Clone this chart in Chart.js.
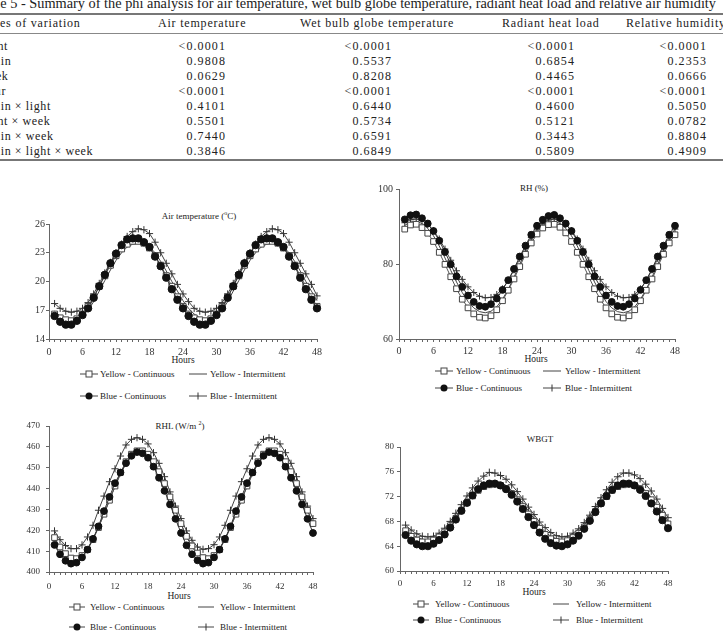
<!DOCTYPE html>
<html><head><meta charset="utf-8">
<script src="https://cdn.jsdelivr.net/npm/chart.js@4/dist/chart.umd.min.js"></script>
<style>
html,body{margin:0;padding:0;background:#fff;}
body{width:723px;height:634px;overflow:hidden;position:relative;font-family:"Liberation Serif","Times New Roman",serif;color:#222;}
.a{position:absolute;white-space:nowrap;line-height:1;}
.c{transform:translate(-50%,-50%);}
.rule{position:absolute;left:0;width:723px;background:#777;}
canvas{position:absolute;}
.lg{position:absolute;white-space:nowrap;font-size:9px;line-height:1;transform:translateY(-50%);color:#222;}
svg.sym{position:absolute;transform:translateY(-50%);overflow:visible;}
</style></head><body>
<div id="root"></div>
<canvas id="c1" width="345" height="170" style="left:0px;top:200px"></canvas>
<canvas id="c2" width="363" height="200" style="left:360px;top:170px"></canvas>
<canvas id="c3" width="345" height="200" style="left:0px;top:405px"></canvas>
<canvas id="c4" width="363" height="180" style="left:360px;top:425px"></canvas>
<script>
// ---------- Table data ----------
const tableTitle = "Table 5 - Summary of the phi analysis for air temperature, wet bulb globe temperature, radiant heat load and relative air humidity";
const tableHeaders = ["Sources of variation", "Air temperature", "Wet bulb globe temperature", "Radiant heat load", "Relative humidity"];
const rowLabels = ["Light", "Strain", "Week", "Hour", "Strain × light", "Light × week", "Strain × week", "Strain × light × week"];
const pAir  = ["<0.0001", "0.9808", "0.0629", "<0.0001", "0.4101", "0.5501", "0.7440", "0.3846"];
const pWbgt = ["<0.0001", "0.5537", "0.8208", "<0.0001", "0.6440", "0.5734", "0.6591", "0.6849"];
const pRhl  = ["<0.0001", "0.6854", "0.4465", "<0.0001", "0.4600", "0.5121", "0.3443", "0.5809"];
const pRh   = ["<0.0001", "0.2353", "0.0666", "<0.0001", "0.5050", "0.0782", "0.8804", "0.4909"];

// ---------- Chart data ----------
const hours = [1,2,3,4,5,6,7,8,9,10,11,12,13,14,15,16,17,18,19,20,21,22,23,24,25,26,27,28,29,30,31,32,33,34,35,36,37,38,39,40,41,42,43,44,45,46,47,48];
const seriesNames = ["Yellow - Continuous", "Yellow - Intermittent", "Blue - Continuous", "Blue - Intermittent"];

const airYC = [16.6,16.2,16.0,15.9,16.1,16.6,17.4,18.4,19.5,20.6,21.7,22.7,23.4,23.9,24.2,24.2,24.0,23.5,22.7,21.7,20.6,19.5,18.4,17.4,16.6,16.2,16.0,15.9,16.1,16.6,17.4,18.4,19.5,20.6,21.7,22.7,23.4,23.9,24.2,24.2,24.0,23.5,22.7,21.7,20.6,19.5,18.4,17.4];
const airYI = [16.9,16.4,16.1,16.0,16.1,16.4,17.0,17.9,19.0,20.1,21.2,22.2,23.0,23.6,23.9,24.0,24.0,23.6,23.0,22.1,21.1,20.0,19.0,18.0,17.2,16.6,16.2,16.0,16.1,16.4,17.0,17.9,19.0,20.1,21.2,22.2,23.0,23.6,23.9,24.0,24.0,23.6,23.0,22.1,21.1,20.0,19.0,18.0];
const airBC = [16.4,15.8,15.5,15.5,15.9,16.5,17.2,18.3,19.5,20.7,21.9,22.9,23.8,24.4,24.5,24.5,24.1,23.6,22.6,21.6,20.4,19.2,18.1,17.2,16.4,15.8,15.5,15.5,15.9,16.5,17.2,18.3,19.5,20.7,21.9,22.9,23.8,24.4,24.5,24.5,24.1,23.6,22.6,21.6,20.4,19.2,18.1,17.2];
const airBI = [17.7,17.2,16.9,16.8,16.9,17.2,17.8,18.7,19.8,20.9,22.0,23.0,23.9,24.7,25.2,25.5,25.4,25.0,24.1,23.0,21.9,20.8,19.7,18.7,17.9,17.2,16.9,16.8,16.9,17.2,17.8,18.7,19.8,20.9,22.0,23.0,23.9,24.7,25.2,25.5,25.4,25.0,24.1,23.0,21.9,20.8,19.7,18.5];

const rhYC = [89.3,90.4,90.6,89.7,88.2,86.0,83.1,79.9,76.6,73.4,70.6,68.3,66.7,65.8,65.6,66.2,67.8,70.2,73.0,76.0,79.3,82.6,85.6,88.0,89.6,90.5,90.6,89.8,88.3,86.0,83.1,79.9,76.6,73.4,70.6,68.3,66.7,65.8,65.6,66.2,67.8,70.2,73.0,76.0,79.3,82.6,85.6,87.8];
const rhYI = [90.3,91.2,91.4,90.8,89.5,87.5,84.8,81.6,78.3,75.2,72.4,70.0,68.3,67.3,67.0,67.4,68.6,70.6,73.3,76.5,79.9,83.2,86.2,88.6,90.3,91.2,91.4,90.8,89.5,87.5,84.8,81.6,78.3,75.2,72.4,70.0,68.3,67.3,67.0,67.4,68.6,70.6,73.3,76.5,79.9,83.2,86.2,88.6];
const rhBC = [91.9,93.0,93.2,92.2,90.8,88.8,86.2,83.2,79.9,76.7,73.9,71.6,69.9,68.8,68.6,69.3,70.8,73.1,75.7,78.7,82.0,84.9,87.8,90.2,91.8,92.8,93.1,92.2,90.8,88.8,86.2,83.2,79.9,76.7,73.9,71.6,69.9,68.8,68.6,69.3,70.8,73.1,75.7,78.7,82.0,84.9,87.8,90.2];
const rhBI = [91.0,91.8,92.0,91.6,90.5,88.9,86.7,84.0,81.0,78.2,75.9,73.9,72.4,71.4,71.0,71.1,71.9,73.4,75.6,78.4,81.4,84.4,87.1,89.3,90.8,91.7,92.0,91.6,90.5,88.9,86.7,84.0,81.0,78.2,75.9,73.9,72.4,71.4,71.0,71.1,71.9,73.4,75.6,78.4,81.4,84.4,87.1,89.3];

const rhlYC = [416.5,412.0,408.8,406.7,406.4,407.9,410.7,415.5,421.3,427.7,434.4,441.2,447.7,452.9,456.5,458.1,458.1,456.5,452.9,448.1,442.4,436.0,429.6,423.2,417.1,412.5,409.1,406.9,406.4,407.9,410.7,415.5,421.3,427.7,434.4,441.2,447.7,452.9,456.5,458.1,458.1,456.5,452.9,448.1,442.4,436.0,429.6,423.2];
const rhlYI = [416.0,411.6,408.6,407.0,406.9,408.4,411.3,415.8,421.5,427.8,434.4,440.9,446.9,451.9,455.6,457.4,457.5,456.0,452.8,448.2,442.6,436.2,429.6,423.0,416.9,412.0,408.6,407.0,406.9,408.4,411.3,415.8,421.5,427.8,434.4,440.9,446.9,451.9,455.6,457.4,457.5,456.0,452.8,448.2,442.6,436.2,429.6,423.0];
const rhlBC = [413.0,408.5,405.4,404.0,404.5,407.0,410.7,415.9,421.9,429.2,436.0,442.6,447.7,452.2,455.7,457.5,456.9,454.8,450.5,445.2,438.9,432.4,425.5,418.7,412.8,408.5,405.6,404.0,404.5,407.0,410.7,415.9,421.9,429.2,436.0,442.6,447.7,452.2,455.7,457.5,456.9,454.8,450.5,445.2,438.9,432.4,425.5,418.7];
const rhlBI = [419.7,415.5,412.7,411.2,411.2,413.0,416.8,422.4,429.6,436.4,443.3,449.5,455.6,460.9,463.6,464.4,463.6,461.4,457.2,452.1,445.7,438.4,431.6,425.6,419.7,415.2,412.0,410.9,411.2,413.1,416.8,422.4,429.6,436.4,443.3,449.5,455.6,460.9,463.6,464.4,463.6,461.4,457.2,452.1,445.7,438.4,431.6,425.6];

const wbYC = [66.5,65.6,65.0,64.7,64.7,65.0,65.5,66.3,67.3,68.5,69.8,71.0,72.1,73.0,73.6,73.9,74.0,73.8,73.3,72.5,71.5,70.4,69.2,68.0,66.9,65.9,65.2,64.8,64.7,64.9,65.4,66.1,67.1,68.3,69.6,70.9,72.0,73.0,73.6,73.9,74.0,73.8,73.3,72.5,71.5,70.3,69.0,67.6];
const wbYI = [66.9,66.0,65.4,65.1,65.0,65.2,65.7,66.5,67.5,68.7,70.0,71.3,72.4,73.3,74.0,74.4,74.5,74.3,73.8,73.0,72.0,70.9,69.7,68.5,67.3,66.3,65.6,65.2,65.0,65.2,65.7,66.4,67.4,68.6,69.9,71.2,72.3,73.2,73.9,74.3,74.4,74.2,73.7,72.9,71.9,70.7,69.4,68.1];
const wbBC = [65.8,64.9,64.3,64.0,64.0,64.4,65.0,65.9,67.0,68.3,69.7,71.0,72.2,73.2,73.8,74.1,74.1,73.8,73.2,72.3,71.2,70.0,68.7,67.4,66.2,65.2,64.5,64.1,64.0,64.3,64.9,65.7,66.8,68.1,69.5,70.9,72.1,73.1,73.8,74.1,74.1,73.8,73.1,72.1,70.9,69.6,68.2,66.9];
const wbBI = [67.4,66.6,66.0,65.6,65.5,65.6,66.1,66.9,68.0,69.3,70.7,72.1,73.4,74.5,75.3,75.9,75.8,75.4,74.8,73.9,72.8,71.6,70.3,69.1,67.9,67.0,66.2,65.7,65.5,65.6,66.1,66.8,67.8,69.0,70.4,71.8,73.1,74.3,75.2,75.8,75.8,75.5,74.9,74.0,72.9,71.6,70.1,68.6];

const xTicks = [0,1,2,3,4,5,6,7,8,9,10,11,12,13,14,15,16,17,18,19,20,21,22,23,24,25,26,27,28,29,30,31,32,33,34,35,36,37,38,39,40,41,42,43,44,45,46,47,48];

// ---------- Table rendering ----------
const root = document.getElementById('root');
function el(cls, txt, style){ const d=document.createElement('div'); d.className=cls; if(txt!==null) d.textContent=txt; Object.assign(d.style, style); root.appendChild(d); return d; }

// title fitted so that visible part ends near x=716
(function(){
  const t = el('a', tableTitle, {fontSize:'13px', top:'-3px', left:'0px'});
  const m = el('a', 'Tabl', {fontSize:'13px', top:'-100px', left:'0px'});
  const w = t.offsetWidth, wt = m.offsetWidth;
  const s = 716/(w-wt);
  const fs = 13*s;
  t.style.fontSize = fs+'px';
  m.style.fontSize = fs+'px';
  t.style.left = (-m.offsetWidth)+'px';
  t.style.top = (4 - fs/2 - 1)+'px';
  m.remove();
})();
el('rule', null, {top:'13px', height:'2px'});
el('rule', null, {top:'33px', height:'1px', background:'#888'});
el('rule', null, {top:'159px', height:'2px'});

const headerLeft = [-32, 158, 300, 502, 626];
tableHeaders.forEach((h,i)=>{ el('a', h, {fontSize:'12px', letterSpacing:'0.8px', left:headerLeft[i]+'px', top:(23-6)+'px'}); });
// row labels: hide "Stra" of "Strain"
(function(){
  const m = el('a', 'Stra', {fontSize:'12px', letterSpacing:'0.6px', top:'-100px', left:'0px'});
  const off = m.offsetWidth - 1; m.remove();
  rowLabels.forEach((r,i)=>{ el('a', r, {fontSize:'12px', letterSpacing:'0.6px', left:(-off)+'px', top:(46+15*i-6)+'px'}); });
})();
const colRight = [225, 391, 574, 706];
[pAir,pWbgt,pRhl,pRh].forEach((col,ci)=>{
  col.forEach((v,i)=>{ el('a', v, {fontSize:'12px', letterSpacing:'1.1px', right:(723-colRight[ci]-1)+'px', top:(46+15*i-6)+'px', textAlign:'right'}); });
});

// ---------- Chart helpers ----------
const FAM = '"Liberation Serif","Times New Roman",serif';
function datasets(yc, yi, bc, bi, r){
  const pts = a => hours.map((h,i)=>({x:h, y:a[i]}));
  return [
    {label:seriesNames[2], data:pts(bc), borderColor:'#333', borderWidth:1, pointStyle:'circle', pointRadius:r.c, pointBackgroundColor:'#111', pointBorderColor:'#111', pointBorderWidth:1, order:0, clip:false},
    {label:seriesNames[0], data:pts(yc), borderColor:'#555', borderWidth:1, pointStyle:'rect', pointRadius:r.s, pointBackgroundColor:'#fff', pointBorderColor:'#444', pointBorderWidth:1, order:1, clip:false},
    {label:seriesNames[3], data:pts(bi), borderColor:'#444', borderWidth:1, pointStyle:'cross', pointRadius:r.x, pointBorderColor:'#333', pointBorderWidth:1, order:2, clip:false},
    {label:seriesNames[1], data:pts(yi), borderColor:'#444', borderWidth:1, pointRadius:0, order:3, clip:false}
  ];
}
function makeChart(id, sets, y, o){
  return new Chart(document.getElementById(id), {
    type:'line',
    data:{datasets:sets},
    options:{
      responsive:false, animation:false, devicePixelRatio:1,
      layout:{padding:{left:0, top:o.pt, right:o.pr, bottom:0}},
      plugins:{legend:{display:false}, tooltip:{enabled:false}, title:{display:false}},
      elements:{line:{tension:0}},
      scales:{
        x:{type:'linear', min:0, max:48,
           afterFit:s=>{s.height=o.xh;},
           afterBuildTicks:s=>{s.ticks = xTicks.map(v=>({value:v}));},
           ticks:{autoSkip:false, maxRotation:0, minRotation:0, padding:o.xp, color:'#333', font:{family:FAM, size:o.fs},
                  callback:v=> (v%6===0 ? String(v) : '')},
           grid:{drawOnChartArea:false, drawTicks:true, tickLength:3, color:'#666', lineWidth:1},
           border:{display:true, color:'#666', width:1}},
        y:{type:'linear', min:y.min, max:y.max,
           afterFit:s=>{s.width=o.yw;},
           ticks:{stepSize:y.step, padding:o.yp, color:'#333', font:{family:FAM, size:o.fs}},
           grid:{drawOnChartArea:false, drawTicks:true, tickLength:3, color:'#666', lineWidth:1},
           border:{display:true, color:'#666', width:1}}
      }
    }
  });
}

makeChart('c1', datasets(airYC, airYI, airBC, airBI, {c:3.7, s:4.2, x:3.6}), {min:14, max:26, step:3},
  {pt:24, pr:28, xh:31, yw:49, xp:4, yp:1, fs:10});
makeChart('c2', datasets(rhYC, rhYI, rhBC, rhBI, {c:3.4, s:4.0, x:3.4}), {min:60, max:100, step:20},
  {pt:19, pr:48, xh:31, yw:39, xp:3, yp:3, fs:10});
makeChart('c3', datasets(rhlYC, rhlYI, rhlBC, rhlBI, {c:3.4, s:4.0, x:3.6}), {min:400, max:470, step:10},
  {pt:21, pr:32, xh:33, yw:49, xp:6, yp:6, fs:9});
makeChart('c4', datasets(wbYC, wbYI, wbBC, wbBI, {c:3.6, s:4.0, x:3.8}), {min:60, max:80, step:4},
  {pt:22, pr:55, xh:34, yw:40, xp:4, yp:3, fs:9});

// ---------- titles, axis titles, legends ----------
function centered(txt, cx, cy, fs, html){ const d = el('a c', html?null:txt, {left:cx+'px', top:cy+'px', fontSize:fs+'px'}); if(html) d.innerHTML = txt; return d; }
centered('Air temperature (<sup style="font-size:6px">o</sup>C)', 199, 215, 9, true);
centered('RH (%)', 534, 188, 9);
centered('RHL (W/m <sup style="font-size:6px">2</sup>)', 180, 425, 9, true);
centered('WBGT', 540, 439, 9);
centered('Hours', 183, 361, 9.5);
centered('Hours', 536, 360, 9.5);
centered('Hours', 179, 597, 9.5);
centered('Hours', 534, 593, 9.5);

function sym(kind, x, y, w){
  const ns='http://www.w3.org/2000/svg';
  const s=document.createElementNS(ns,'svg'); s.setAttribute('class','sym'); s.setAttribute('width',w); s.setAttribute('height',10);
  s.style.left=x+'px'; s.style.top=y+'px';
  let inner = `<line x1="0" y1="5" x2="${w}" y2="5" stroke="#444" stroke-width="1"/>`;
  const m=w/2;
  if(kind==='yc') inner += `<rect x="${m-3}" y="2" width="6" height="6" fill="#fff" stroke="#444" stroke-width="1"/>`;
  if(kind==='bc') inner += `<circle cx="${m}" cy="5" r="3.5" fill="#111"/>`;
  if(kind==='bi') inner += `<line x1="${m}" y1="1.5" x2="${m}" y2="8.5" stroke="#333" stroke-width="1"/>`;
  s.innerHTML = inner; root.appendChild(s);
}
function legend(rows, symX, txtX, w){
  const kinds=[['yc','yi'],['bc','bi']];
  const names=[[seriesNames[0],seriesNames[1]],[seriesNames[2],seriesNames[3]]];
  rows.forEach((ry,ri)=>{
    [0,1].forEach(ci=>{
      sym(kinds[ri][ci], symX[ci], ry, w);
      const d=document.createElement('div'); d.className='lg'; d.textContent=names[ri][ci];
      d.style.left=txtX[ci]+'px'; d.style.top=ry+'px'; root.appendChild(d);
    });
  });
}
legend([374,396],[80,189],[100,210],18);
legend([371,388],[435,543],[456,565],18);
legend([607,627],[69,198],[90,220],16);
legend([604,620],[413,553],[435,576],16);
</script>
</body></html>
